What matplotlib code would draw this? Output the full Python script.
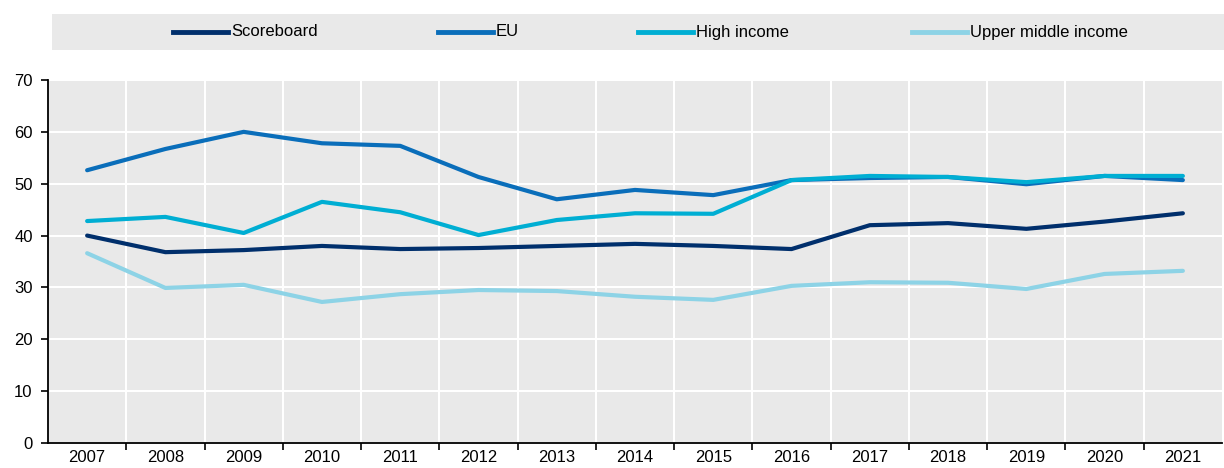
import numpy as np
import matplotlib.pyplot as plt
from matplotlib.lines import Line2D

plt.rcParams['font.family'] = ['Liberation Sans Narrow', 'Liberation Sans', 'DejaVu Sans']

years = [str(y) for y in range(2007, 2022)]
scoreboard = [40.0, 36.8, 37.2, 38.0, 37.4, 37.6, 38.0, 38.4, 38.0, 37.4, 42.0, 42.4, 41.3, 42.7, 44.3]
eu = [52.6, 56.7, 60.0, 57.8, 57.3, 51.3, 47.0, 48.8, 47.8, 50.7, 51.1, 51.3, 49.9, 51.5, 50.7]
high_income = [42.8, 43.6, 40.5, 46.5, 44.5, 40.1, 43.0, 44.3, 44.2, 50.7, 51.5, 51.3, 50.3, 51.5, 51.5]
upper_middle = [36.6, 29.9, 30.5, 27.2, 28.7, 29.5, 29.3, 28.2, 27.6, 30.3, 31.0, 30.9, 29.7, 32.6, 33.2]

series = [
    ("Scoreboard", scoreboard, "#002F6C"),
    ("EU", eu, "#0A6EBA"),
    ("High income", high_income, "#00AED3"),
    ("Upper middle income", upper_middle, "#8DD3E6"),
]

W, H = 1224, 468
fig = plt.figure(figsize=(W / 100, H / 100), dpi=100)
ax = fig.add_axes([48 / W, 1 - 443 / H, (1222 - 48) / W, (443 - 80) / H])
ax.set_facecolor("#E9E9E9")

x = np.arange(len(years))
for name, vals, col in series:
    ax.plot(x, vals, color=col, lw=3, solid_capstyle="round", label=name, zorder=3)

ax.set_xlim(-0.5, len(years) - 0.5)
ax.set_ylim(0, 70)
ax.set_yticks(range(0, 71, 10))
ax.set_xticks(np.arange(0.5, len(years) - 1, 1))
ax.set_xticklabels([])
ax.set_xticks(x, minor=True)
ax.set_xticklabels(years, minor=True)
ax.tick_params(axis="x", which="minor", length=0, labelsize=12, pad=5)
ax.tick_params(axis="x", which="major", length=5, width=1.2, direction="out", color="black")
ax.tick_params(axis="y", length=5, width=1.2, labelsize=12, pad=6)

ax.grid(True, axis="y", color="white", lw=1.5, zorder=1)
ax.grid(True, axis="x", which="major", color="white", lw=1.5, zorder=1)
ax.set_axisbelow(True)
for s in ["top", "right"]:
    ax.spines[s].set_visible(False)
for s in ["left", "bottom"]:
    ax.spines[s].set_linewidth(1.3)
    ax.spines[s].set_color("black")

# legend band
lax = fig.add_axes([52 / W, 1 - 50 / H, (W - 52) / W, 36 / H])
lax.set_facecolor("#E9E9E9")
lax.set_xlim(52, W)
lax.set_ylim(0, 1)
lax.set_xticks([])
lax.set_yticks([])
for s in lax.spines.values():
    s.set_visible(False)
handle_x = [173, 438, 638, 912]
for (name, vals, col), hx in zip(series, handle_x):
    lax.add_line(Line2D([hx, hx + 55], [0.5, 0.5], color=col, lw=3.5))
    lax.text(hx + 58, 0.5, name, va="center", ha="left", fontsize=12)

fig.savefig("out.png", dpi=100)
